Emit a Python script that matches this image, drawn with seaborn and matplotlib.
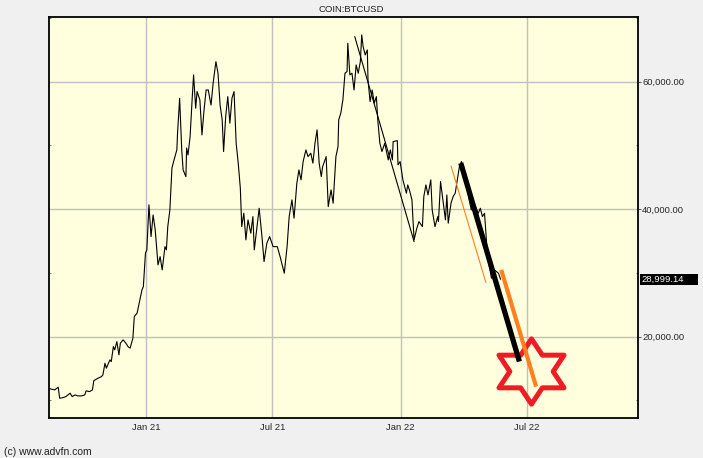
import matplotlib
matplotlib.use("Agg")
import matplotlib.pyplot as plt
from matplotlib.path import Path
from matplotlib.markers import MarkerStyle
from matplotlib.patches import Rectangle
from matplotlib.ticker import FuncFormatter, MultipleLocator
import numpy as np
import pandas as pd
import seaborn as sns

# price series
dates = [
    "2020-08-14", "2020-08-18", "2020-08-23", "2020-08-28", "2020-08-30", "2020-09-04",
    "2020-09-08", "2020-09-14", "2020-09-17", "2020-09-21", "2020-09-25", "2020-09-30",
    "2020-10-05", "2020-10-07", "2020-10-12", "2020-10-16", "2020-10-18", "2020-10-24",
    "2020-10-29", "2020-10-31", "2020-11-03", "2020-11-05", "2020-11-10", "2020-11-12",
    "2020-11-15", "2020-11-17", "2020-11-20", "2020-11-23", "2020-11-25", "2020-11-29",
    "2020-12-03", "2020-12-06", "2020-12-09", "2020-12-13", "2020-12-15", "2020-12-19",
    "2020-12-22", "2020-12-26", "2020-12-28", "2020-12-31", "2021-01-02", "2021-01-05",
    "2021-01-08", "2021-01-11", "2021-01-14", "2021-01-18", "2021-01-21", "2021-01-24",
    "2021-01-28", "2021-01-30", "2021-02-01", "2021-02-04", "2021-02-07", "2021-02-10",
    "2021-02-14", "2021-02-15", "2021-02-18", "2021-02-21", "2021-02-23", "2021-02-27",
    "2021-02-28", "2021-03-02", "2021-03-05", "2021-03-08", "2021-03-10", "2021-03-13",
    "2021-03-15", "2021-03-19", "2021-03-22", "2021-03-25", "2021-03-28", "2021-03-31",
    "2021-04-04", "2021-04-07", "2021-04-11", "2021-04-14", "2021-04-17", "2021-04-20",
    "2021-04-22", "2021-04-25", "2021-04-28", "2021-05-01", "2021-05-04", "2021-05-07",
    "2021-05-10", "2021-05-13", "2021-05-16", "2021-05-17", "2021-05-18", "2021-05-21",
    "2021-05-24", "2021-05-27", "2021-05-31", "2021-06-03", "2021-06-05", "2021-06-09",
    "2021-06-12", "2021-06-16", "2021-06-19", "2021-06-23", "2021-06-27", "2021-07-02",
    "2021-07-08", "2021-07-12", "2021-07-18", "2021-07-22", "2021-07-25", "2021-07-29",
    "2021-08-01", "2021-08-05", "2021-08-08", "2021-08-11", "2021-08-14", "2021-08-18",
    "2021-08-21", "2021-08-25", "2021-08-28", "2021-08-31", "2021-09-03", "2021-09-06",
    "2021-09-09", "2021-09-11", "2021-09-16", "2021-09-19", "2021-09-23", "2021-09-26",
    "2021-09-30", "2021-10-03", "2021-10-04", "2021-10-07", "2021-10-10", "2021-10-13",
    "2021-10-16", "2021-10-17", "2021-10-20", "2021-10-23", "2021-10-26", "2021-10-29",
    "2021-11-01", "2021-11-04", "2021-11-06", "2021-11-08", "2021-11-11", "2021-11-14",
    "2021-11-15", "2021-11-18", "2021-11-21", "2021-11-24", "2021-11-27", "2021-11-29",
    "2021-12-02", "2021-12-05", "2021-12-09", "2021-12-14", "2021-12-17", "2021-12-20",
    "2021-12-21", "2021-12-27", "2021-12-28", "2021-12-31", "2022-01-04", "2022-01-09",
    "2022-01-11", "2022-01-14", "2022-01-17", "2022-01-20", "2022-01-24", "2022-01-27",
    "2022-02-01", "2022-02-03", "2022-02-06", "2022-02-09", "2022-02-13", "2022-02-15",
    "2022-02-19", "2022-02-23", "2022-02-24", "2022-02-27", "2022-03-03", "2022-03-06",
    "2022-03-08", "2022-03-10", "2022-03-14", "2022-03-17", "2022-03-20", "2022-03-23",
    "2022-03-26", "2022-03-29", "2022-04-01", "2022-04-05", "2022-04-08", "2022-04-12",
    "2022-04-13", "2022-04-18", "2022-04-22", "2022-04-25", "2022-04-28", "2022-05-01",
    "2022-05-04", "2022-05-07", "2022-05-11", "2022-05-15", "2022-05-21", "2022-05-24",
]
prices = [
    11920, 11770, 11660, 12080, 10350, 10450,
    10610, 11140, 10610, 10870, 10710, 10710,
    10870, 11500, 11390, 11660, 13110, 13490,
    13740, 14010, 15840, 15060, 16360, 16100,
    18450, 17930, 19230, 17150, 18980, 19500,
    18980, 18450, 18200, 19770, 23150, 23690,
    25250, 27340, 27860, 33100, 33620, 40680,
    35700, 39100, 36750, 31260, 32560, 30480,
    34130, 33620, 37270, 39900, 46480, 47730,
    49300, 51900, 57400, 49300, 46150, 45100,
    49600, 48500, 51400, 57400, 61070, 55840,
    58450, 57150, 51650, 55580, 58700, 58700,
    56340, 59760, 63150, 61330, 56340, 54000,
    49040, 54520, 57660, 53490, 57410, 58450,
    50350, 47210, 43290, 40400, 37270, 39370,
    35180, 38320, 36230, 38840, 33620, 37270,
    40150, 35700, 31780, 34670, 35700, 34130,
    34130, 32560, 29960, 34130, 38840, 41460,
    38590, 44080, 46160, 44600, 47470, 49300,
    48250, 48780, 47220, 50350, 52440, 47220,
    45110, 46680, 48250, 40400, 43030, 40940,
    48250, 49820, 54000, 55060, 57150, 61330,
    61600, 66040, 61070, 61330, 58700, 62630,
    61330, 63150, 67330, 65500, 64200, 64990,
    60290, 56880, 58700, 56630, 57660, 54000,
    50350, 49040, 50350, 47730, 49300, 47730,
    50600, 50760, 46950, 47470, 44600, 42510,
    43810, 42760, 41460, 35180, 37020, 38060,
    37270, 41980, 43810, 42240, 44600, 39890,
    37270, 38840, 38060, 44330, 40940, 38320,
    42240, 37800, 40940, 41980, 42510, 44600,
    46680, 47470, 46680, 44080, 41980, 39890,
    41460, 40400, 39370, 40150, 38840, 39370,
    34670, 31530, 29180, 30480, 29960, 28999.14,
]
last_price = 28999.14

# drawn annotations (start, end)
trend_dates = ["2021-10-27", "2022-01-20"]
trend_prices = [67070, 34920]
black_dates = ["2022-03-28", "2022-06-20"]
black_prices = [47220, 16100]
orange_thin_dates = ["2022-03-14", "2022-05-03"]
orange_thin_prices = [46790, 28490]
orange_dates = ["2022-05-25", "2022-07-14"]
orange_prices = [30480, 12170]
star_date = "2022-07-07"
star_price = 14640

tick_dates = ["2021-01-01", "2021-07-01", "2022-01-01", "2022-07-01"]
tick_labels = ["Jan 21", "Jul 21", "Jan 22", "Jul 22"]

df = pd.DataFrame({"date": pd.to_datetime(dates), "price": prices})

sns.set_theme(style="white")
plt.rcParams["font.family"] = ["Liberation Sans", "DejaVu Sans"]

fig = plt.figure(figsize=(7.03, 4.58), dpi=100, facecolor="#F0F0F0")
ax = fig.add_axes([49 / 703, 1 - 418.3 / 458, 589 / 703, 401 / 458])
ax.set_facecolor("#FFFFDD")

sns.lineplot(data=df, x="date", y="price", color="black", linewidth=0.8, ax=ax, zorder=2)

# six-pointed star outline
ang = np.deg2rad(90 + 30 * np.arange(12))
rad = np.where(np.arange(12) % 2 == 0, 1.0, 1 / np.sqrt(3))
verts = np.column_stack([1.15 * rad * np.cos(ang), rad * np.sin(ang)])
verts = np.vstack([verts, verts[:1]])
star = MarkerStyle(Path(verts, closed=True), joinstyle="miter")
ax.plot([pd.Timestamp(star_date)], [star_price], marker=star, markersize=47,
        markerfacecolor="none", markeredgecolor="#EE1C25", markeredgewidth=3.6,
        linestyle="none", zorder=3)

ax.plot(pd.to_datetime(trend_dates), trend_prices, color="black", linewidth=0.8, zorder=4)
ax.plot(pd.to_datetime(orange_thin_dates), orange_thin_prices, color="#FF8020", linewidth=0.8, zorder=4)
ax.plot(pd.to_datetime(black_dates), black_prices, color="black", linewidth=3.8,
        solid_capstyle="butt", zorder=4)
ax.plot(pd.to_datetime(orange_dates), orange_prices, color="#FF8020", linewidth=3,
        solid_capstyle="butt", zorder=4)

ax.set_xlim(pd.Timestamp("2020-08-14 18:00"), pd.Timestamp("2022-12-07"))
ax.set_ylim(7200, 70100)
ax.set_xlabel("")
ax.set_ylabel("")

ax.set_xticks(pd.to_datetime(tick_dates))
ax.set_xticklabels(tick_labels)
ax.yaxis.tick_right()
ax.yaxis.set_major_locator(MultipleLocator(20000))
ax.yaxis.set_minor_locator(MultipleLocator(10000))
ax.yaxis.set_major_formatter(FuncFormatter(lambda v, p: f"{v:,.2f}"))

ax.grid(True, which="major", color="#C0C0C0", linewidth=1)
ax.tick_params(axis="x", length=2, width=0.8, color="#808080", labelsize=6.8, pad=1.5)
ax.tick_params(axis="y", which="major", right=True, left=False, direction="out",
               length=2.2, width=0.8, color="#606060", labelsize=6.8, pad=0.8)
ax.tick_params(axis="y", which="minor", right=True, left=True, direction="in",
               length=1.5, width=0.8, color="#808080")
for s in ax.spines.values():
    s.set_color("black")
    s.set_linewidth(1.3)

# last price tag on the right axis
y_disp = ax.transData.transform((0, last_price))[1]
y_fig = y_disp / fig.bbox.height
fig.add_artist(Rectangle((640 / 703, y_fig - 5.5 / 458), 58 / 703, 11 / 458,
                         transform=fig.transFigure, facecolor="black", edgecolor="none"))
fig.text(641.5 / 703, y_fig, f"{last_price:,.2f}", color="white", fontsize=6.8,
         ha="left", va="center")

fig.text(0.5, 1 - 9.5 / 458, "COIN:BTCUSD", ha="center", va="center", fontsize=6.8, color="#202020")
fig.text(4 / 703, 1 - 452 / 458, "(c) www.advfn.com", ha="left", va="center", fontsize=7.5,
         color="#202020")

fig.savefig("out.png", dpi=100, facecolor=fig.get_facecolor())
